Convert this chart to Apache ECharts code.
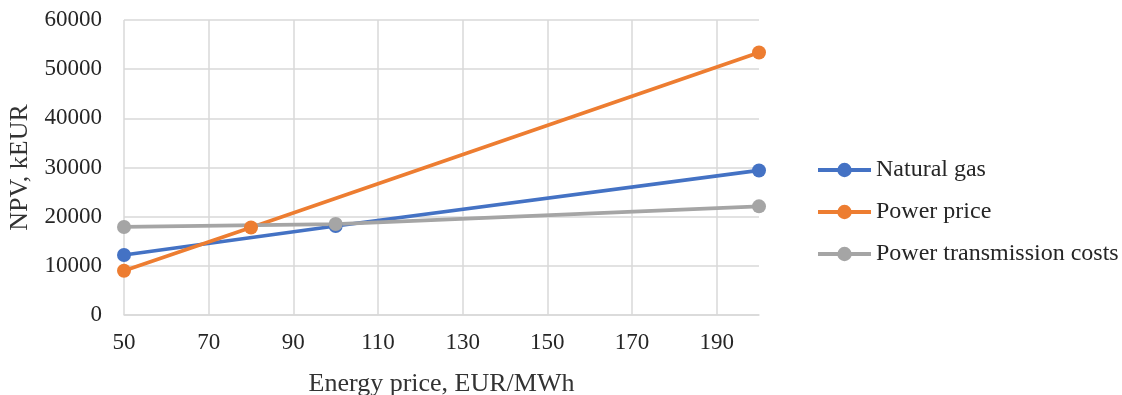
<!DOCTYPE html>
<html><head><meta charset="utf-8">
<script src="https://cdn.jsdelivr.net/npm/echarts@6/dist/echarts.min.js"></script>
<style>html,body{margin:0;padding:0;background:#fff}#c{width:1122px;height:395px}</style>
</head><body><div id="c"></div>
<script>
const naturalGas = [[50, 12200], [100, 18100], [200, 29400]];
const powerPrice = [[50, 9000], [80, 17800], [200, 53400]];
const transmission = [[50, 17900], [100, 18500], [200, 22100]];
const seriesNames = ['Natural gas', 'Power price', 'Power transmission costs'];
const colors = ['#4472C4', '#ED7D31', '#A5A5A5'];
const font = '"Liberation Serif", "Times New Roman", serif';

const chart = echarts.init(document.getElementById('c'));
const mk = (name, data, color) => ({
  name, type: 'line', data, color,
  symbol: 'circle', symbolSize: 14,
  lineStyle: { width: 3.75, color },
  itemStyle: { color },
  animation: false
});
chart.setOption({
  animation: false,
  textStyle: { fontFamily: font },
  grid: { left: 124, right: 363, top: 20, bottom: 80, outerBoundsMode: 'none', containLabel: false },
  legend: {
    orient: 'vertical', left: 811, top: 153,
    itemWidth: 53, itemHeight: 18, itemGap: 18,
    lineStyle: { width: 4 },
    textStyle: { fontFamily: font, fontSize: 24, color: '#262626' },
    data: seriesNames
  },
  xAxis: {
    type: 'value', min: 50, max: 200, interval: 20,
    name: 'Energy price, EUR/MWh', nameLocation: 'middle', nameGap: 56,
    nameTextStyle: { fontFamily: font, fontSize: 26, color: '#333333' },
    axisLine: { show: true, lineStyle: { color: '#d9d9d9', width: 1.5 } },
    axisTick: { show: false },
    axisLabel: { fontFamily: font, fontSize: 23, color: '#262626', margin: 16, showMaxLabel: false },
    splitLine: { show: true, showMaxLine: false, lineStyle: { color: '#d9d9d9', width: 1.5 } }
  },
  yAxis: {
    type: 'value', min: 0, max: 60000, interval: 10000,
    name: 'NPV, kEUR', nameLocation: 'middle', nameGap: 84,
    nameTextStyle: { fontFamily: font, fontSize: 26, color: '#333333' },
    axisLine: { show: false },
    axisTick: { show: false },
    axisLabel: { fontFamily: font, fontSize: 23, color: '#262626', margin: 22, formatter: v => String(v) },
    splitLine: { show: true, lineStyle: { color: '#d9d9d9', width: 1.5 } }
  },
  series: [
    mk(seriesNames[0], naturalGas, colors[0]),
    mk(seriesNames[1], powerPrice, colors[1]),
    mk(seriesNames[2], transmission, colors[2])
  ]
});
</script></body></html>
